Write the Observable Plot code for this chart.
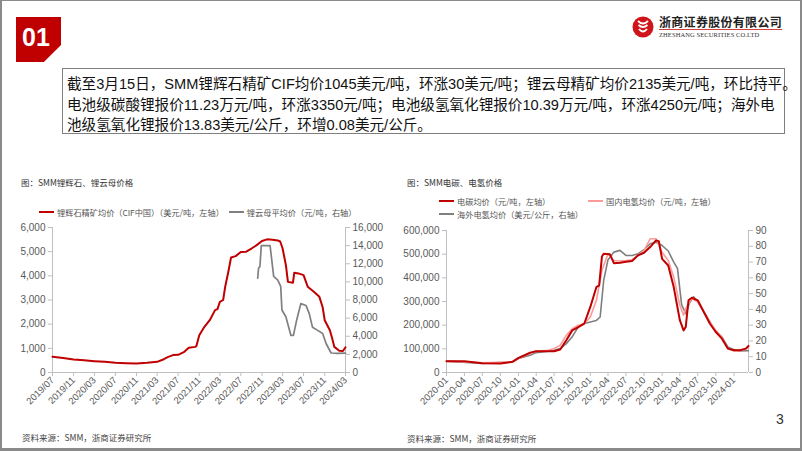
<!DOCTYPE html>
<html><head><meta charset="utf-8">
<script src="https://cdn.jsdelivr.net/npm/d3@7"></script>
<script src="https://cdn.jsdelivr.net/npm/@observablehq/plot@0.6"></script>
<style>
body{margin:0;background:#fff;}
#slide{position:relative;width:802px;height:451px;overflow:hidden;background:#fff;font-family:"Liberation Sans","Noto Sans CJK SC",sans-serif;}
#frame{position:absolute;left:0;top:0;width:802px;height:451px;box-sizing:border-box;border-left:2px solid #8a8a8a;border-top:1px solid #8a8a8a;border-right:2px solid #8a8a8a;border-bottom:3px solid #8a8a8a;pointer-events:none;}
#badge{position:absolute;left:16px;top:17px;width:45px;height:45px;background:#c00000;clip-path:polygon(0 0,100% 0,100% 62%,62% 100%,0 100%);}
#badge span{position:absolute;left:6px;top:6px;color:#fff;font:bold 25px "Liberation Sans",sans-serif;line-height:28px;}
#logoText{position:absolute;left:659px;top:15px;font:bold 12px "Noto Sans CJK SC",sans-serif;line-height:13px;color:#222;letter-spacing:0.3px;white-space:nowrap;}
#logoLine{position:absolute;left:659px;top:29px;width:123px;height:1px;background:#d04040;}
#logoEn{position:absolute;left:659px;top:31px;font:6.5px "Liberation Serif",serif;line-height:7px;color:#333;white-space:nowrap;letter-spacing:0.1px;}
#box{position:absolute;left:62px;top:68px;width:723px;height:66px;box-sizing:border-box;border:1px solid #7f7f7f;padding:5px 0 0 4px;font-size:14.6px;line-height:20.5px;color:#111;white-space:nowrap;font-family:"Liberation Sans","Noto Sans CJK SC",sans-serif;}
.title{position:absolute;font:8.5px "Noto Sans CJK SC",sans-serif;color:#333;white-space:nowrap;}
.leg{position:absolute;font:8.2px "Noto Sans CJK SC",sans-serif;color:#555;white-space:nowrap;display:flex;align-items:center;}
.sw{display:inline-block;width:15px;height:2px;margin-right:3px;}
.chart{position:absolute;}
.src{position:absolute;font:8.5px "Noto Sans CJK SC",sans-serif;color:#444;white-space:nowrap;}
#page{position:absolute;left:776px;top:411px;font:14px "Liberation Sans",sans-serif;color:#333;}
</style></head>
<body>
<div id="slide">
  <div id="badge"><span>01</span></div>
  <svg style="position:absolute;left:631px;top:15px" width="24" height="24" viewBox="0 0 24 24">
    <circle cx="12" cy="12" r="10.5" fill="#d0141b"/>
    <path d="M7 6 Q12 11 17 6 M7.5 10 Q12 14 16.5 10 M8 14 Q12 19 16 14" stroke="#fff" stroke-width="1.8" fill="none"/>
  </svg>
  <div id="logoText">浙商证券股份有限公司</div>
  <div id="logoLine"></div>
  <div id="logoEn">ZHESHANG SECURITIES CO.LTD</div>
  <div id="box">截至3月15日，SMM锂辉石精矿CIF均价1045美元/吨，环涨30美元/吨；锂云母精矿均价2135美元/吨，环比持平。<br>电池级碳酸锂报价11.23万元/吨，环涨3350元/吨；电池级氢氧化锂报价10.39万元/吨，环涨4250元/吨；海外电<br>池级氢氧化锂报价13.83美元/公斤，环增0.08美元/公斤。</div>

  <div class="title" style="left:21px;top:176px">图：SMM锂辉石、锂云母价格</div>
  <div class="leg" style="left:39px;top:206px"><span class="sw" style="background:#c00000"></span>锂辉石精矿均价（CIF中国）（美元/吨，左轴）<span class="sw" style="background:#808080;margin-left:5px"></span>锂云母平均价（元/吨，右轴）</div>
  <div class="chart" id="c1" style="left:0px;top:220px"></div>

  <div class="title" style="left:407px;top:176px">图：SMM电碳、电氢价格</div>
  <div class="leg" style="left:439px;top:195px"><span class="sw" style="background:#c00000"></span>电碳均价（元/吨，左轴）</div>
  <div class="leg" style="left:588px;top:195px"><span class="sw" style="background:#ff9a9a"></span>国内电氢均价（元/吨，左轴）</div>
  <div class="leg" style="left:439px;top:208px"><span class="sw" style="background:#808080"></span>海外电氢均价（美元/公斤，右轴）</div>
  <div class="chart" id="c2" style="left:400px;top:222px"></div>

  <div class="src" style="left:22px;top:431px">资料来源：SMM，浙商证券研究所</div>
  <div class="src" style="left:407px;top:432px">资料来源：SMM，浙商证券研究所</div>
  <div id="page">3</div>
  <div id="frame"></div>
</div>
<script>
// ---------- Left chart data ----------
const leftXTickLabels = ["2019/07","2019/11","2020/03","2020/07","2020/11","2021/03","2021/07","2021/11","2022/03","2022/07","2022/11","2023/03","2023/07","2023/11","2024/03"];
const leftYTicks = [0,1000,2000,3000,4000,5000,6000];
const leftY2Ticks = [0,2000,4000,6000,8000,10000,12000,14000,16000];
const spodumenePrice = [ // 锂辉石精矿均价（CIF中国）美元/吨
["2019-07-01",650],["2019-09-01",600],["2019-11-01",540],["2020-01-01",505],["2020-03-01",470],["2020-05-01",440],
["2020-07-01",400],["2020-09-01",382],["2020-11-01",373],["2021-01-01",400],["2021-03-01",440],["2021-04-09",550],
["2021-05-01",635],["2021-06-01",720],["2021-07-01",730],["2021-08-06",855],["2021-09-01",1020],["2021-10-08",1060],
["2021-10-15",1090],["2021-11-01",1545],["2021-12-01",1890],["2022-01-01",2165],["2022-02-01",2580],["2022-02-15",2620],
["2022-03-01",2925],["2022-03-20",3000],["2022-04-01",3550],["2022-04-20",4200],["2022-05-05",4760],["2022-06-01",4815],
["2022-07-01",4990],["2022-08-01",5000],["2022-09-01",5130],["2022-10-01",5270],["2022-11-01",5440],["2022-12-01",5510],
["2023-01-01",5490],["2023-02-01",5460],["2023-02-15",5420],["2023-03-01",5130],["2023-03-20",4450],["2023-04-01",3750],
["2023-04-30",3710],["2023-05-08",4130],["2023-06-01",4100],["2023-07-01",4030],["2023-07-25",3550],["2023-08-30",3340],
["2023-10-01",3130],["2023-10-20",2700],["2023-11-01",2165],["2023-12-01",1750],["2023-12-15",1400],["2023-12-27",1060],
["2024-01-25",900],["2024-02-15",890],["2024-03-01",1045]
];
const lepidolitePrice = [ // 锂云母平均价 元/吨
["2022-10-07",10400],["2022-10-12",11500],["2022-10-20",11700],["2022-10-28",14000],["2022-12-18",14000],["2022-12-25",12900],
["2023-01-08",10600],["2023-02-01",10200],["2023-02-18",9500],["2023-02-25",6900],["2023-03-20",6150],["2023-04-18",4100],
["2023-05-03",4100],["2023-05-22",5800],["2023-06-15",7600],["2023-07-15",7400],["2023-08-03",6500],["2023-08-22",5000],
["2023-09-21",4650],["2023-10-20",4300],["2023-11-09",3200],["2023-12-08",2150],["2024-01-15",2100],["2024-03-01",2135]
];

// ---------- Right chart data ----------
const rightXTickLabels = ["2020-01","2020-04","2020-07","2020-10","2021-01","2021-04","2021-07","2021-10","2022-01","2022-04","2022-07","2022-10","2023-01","2023-04","2023-07","2023-10","2024-01"];
const rightYTicks = [0,100000,200000,300000,400000,500000,600000];
const rightY2Ticks = [0,10,20,30,40,50,60,70,80,90];
const lcPrice = [ // 电碳均价 元/吨
["2020-01-01",47800],["2020-04-01",47800],["2020-07-01",39000],["2020-10-01",38500],["2020-12-01",45000],["2021-01-01",62000],
["2021-02-01",73000],["2021-03-01",84000],["2021-04-01",90000],["2021-07-01",90000],["2021-08-01",97000],["2021-09-01",136000],
["2021-10-01",178000],["2021-11-01",192000],["2021-12-01",206000],["2022-01-01",277000],["2022-02-01",361000],["2022-02-15",368000],
["2022-03-01",490000],["2022-03-10",502000],["2022-04-10",500000],["2022-05-01",462000],["2022-06-01",464000],["2022-07-01",468000],
["2022-08-01",471000],["2022-09-01",495000],["2022-10-01",506000],["2022-11-01",530000],["2022-12-01",558000],["2022-12-15",555000],
["2023-01-01",480000],["2023-02-01",452000],["2023-03-01",361000],["2023-04-01",221000],["2023-04-20",178000],["2023-05-01",192000],
["2023-05-15",305000],["2023-06-01",316000],["2023-07-01",305000],["2023-08-01",256000],["2023-09-01",206000],["2023-10-01",171000],
["2023-11-01",143000],["2023-12-01",101000],["2024-01-01",94000],["2024-02-01",94000],["2024-03-01",101000],["2024-03-15",112300]
];
const lhDomesticPrice = [ // 国内电氢均价 元/吨
["2020-01-01",48000],["2020-07-01",41000],["2020-12-01",45000],["2021-01-01",59000],["2021-03-01",80000],["2021-04-01",91000],
["2021-06-01",94000],["2021-07-01",101000],["2021-08-01",115000],["2021-09-01",157000],["2021-10-01",185000],["2021-11-01",200000],
["2021-12-01",206000],["2022-01-01",235000],["2022-02-01",305000],["2022-03-01",431000],["2022-04-01",502000],["2022-05-01",473000],
["2022-06-01",471000],["2022-07-01",473000],["2022-08-01",476000],["2022-09-01",495000],["2022-10-01",516000],["2022-11-01",565000],
["2022-12-01",565000],["2023-01-01",508000],["2023-02-01",473000],["2023-03-01",403000],["2023-04-01",284000],["2023-04-20",242000],
["2023-05-01",270000],["2023-06-01",312000],["2023-07-01",298000],["2023-08-01",256000],["2023-09-01",214000],["2023-10-01",178000],
["2023-11-01",150000],["2023-12-01",101000],["2024-01-01",91000],["2024-02-01",91000],["2024-03-15",103900]
];
const lhOverseasPrice = [ // 海外电氢均价 美元/公斤
["2020-01-01",7.2],["2020-07-01",5.8],["2020-12-01",6.7],["2021-01-01",8.9],["2021-03-01",11],["2021-04-01",12.6],
["2021-06-01",13.5],["2021-07-01",14.1],["2021-08-01",15.2],["2021-09-01",18.3],["2021-10-01",22.6],["2021-11-01",28.9],
["2021-12-01",31],["2022-01-01",32],["2022-02-01",33],["2022-02-20",35.2],["2022-03-10",58.4],["2022-04-01",71.5],["2022-05-01",76.3],
["2022-06-01",77.4],["2022-07-01",74.2],["2022-08-01",74.2],["2022-09-01",75.3],["2022-10-01",77.8],["2022-11-01",81.6],
["2022-12-01",82.6],["2023-01-01",80.5],["2023-02-01",77],["2023-03-01",70],["2023-03-20",66],["2023-04-10",43],["2023-05-01",37.3],
["2023-05-20",44],["2023-06-10",48],["2023-07-01",45],["2023-08-01",38.4],["2023-09-01",32],["2023-10-01",25.7],
["2023-11-01",22.6],["2023-12-01",16.2],["2024-01-01",14.5],["2024-02-01",13.7],["2024-03-15",13.83]
];

const pd = s => new Date(s + "T00:00:00Z");
const axisColor = "#bfbfbf", textColor = "#595959";
const baseStyle = {fontFamily: "'Liberation Sans', Arial, sans-serif", fontSize: "10px", color: textColor, background: "transparent", overflow: "visible"};

// Left chart
{
  const k = 6000 / 16000;
  const dom = [pd("2019-07-01"), pd("2024-03-01")];
  const parse = d3.utcParse("%Y/%m");
  const xt = leftXTickLabels.map(parse);
  const fmt = d3.format(",");
  const chart = Plot.plot({
    width: 400, height: 200,
    marginLeft: 52, marginRight: 55, marginTop: 7, marginBottom: 48,
    style: baseStyle,
    x: {type: "utc", domain: dom, axis: null},
    y: {domain: [0, 6000], axis: null},
    marks: [
      Plot.ruleY([0], {stroke: axisColor}),
      Plot.ruleX(dom, {stroke: axisColor}),
      Plot.axisY(leftYTicks, {anchor: "left", tickSize: 4, tickPadding: 3, tickFormat: fmt, stroke: axisColor, fill: textColor}),
      Plot.axisY(leftY2Ticks.map(v => v * k), {anchor: "right", tickSize: 4, tickPadding: 3, tickFormat: d => fmt(Math.round(d / k)), stroke: axisColor, fill: textColor}),
      Plot.axisX(xt, {anchor: "bottom", tickSize: 4, tickPadding: 2, tickRotate: -45, tickFormat: d3.utcFormat("%Y/%m"), stroke: axisColor, fill: textColor, fontSize: 9.5}),
      Plot.line(lepidolitePrice, {x: d => pd(d[0]), y: d => d[1] * k, stroke: "#808080", strokeWidth: 1.7}),
      Plot.line(spodumenePrice, {x: d => pd(d[0]), y: d => d[1], stroke: "#c00000", strokeWidth: 2})
    ]
  });
  document.getElementById("c1").append(chart);
}

// Right chart
{
  const k = 600000 / 90;
  const dom = [pd("2020-01-01"), pd("2024-03-15")];
  const parse = d3.utcParse("%Y-%m");
  const xt = rightXTickLabels.map(parse);
  const fmt = d3.format(",");
  const chart = Plot.plot({
    width: 400, height: 198,
    marginLeft: 46, marginRight: 52, marginTop: 8, marginBottom: 48,
    style: baseStyle,
    x: {type: "utc", domain: dom, axis: null},
    y: {domain: [0, 600000], axis: null},
    marks: [
      Plot.ruleY([0], {stroke: axisColor}),
      Plot.ruleX(dom, {stroke: axisColor}),
      Plot.axisY(rightYTicks, {anchor: "left", tickSize: 4, tickPadding: 3, tickFormat: fmt, stroke: axisColor, fill: textColor}),
      Plot.axisY(rightY2Ticks.map(v => v * k), {anchor: "right", tickSize: 4, tickPadding: 3, tickFormat: d => fmt(Math.round(d / k)), stroke: axisColor, fill: textColor}),
      Plot.axisX(xt, {anchor: "bottom", tickSize: 4, tickPadding: 2, tickRotate: -45, tickFormat: d3.utcFormat("%Y-%m"), stroke: axisColor, fill: textColor, fontSize: 9.5}),
      Plot.line(lhOverseasPrice, {x: d => pd(d[0]), y: d => d[1] * k, stroke: "#7f7f7f", strokeWidth: 1.6}),
      Plot.line(lhDomesticPrice, {x: d => pd(d[0]), y: d => d[1], stroke: "#ff9a9a", strokeWidth: 1.6}),
      Plot.line(lcPrice, {x: d => pd(d[0]), y: d => d[1], stroke: "#c00000", strokeWidth: 2})
    ]
  });
  document.getElementById("c2").append(chart);
}
</script>
</body></html>
